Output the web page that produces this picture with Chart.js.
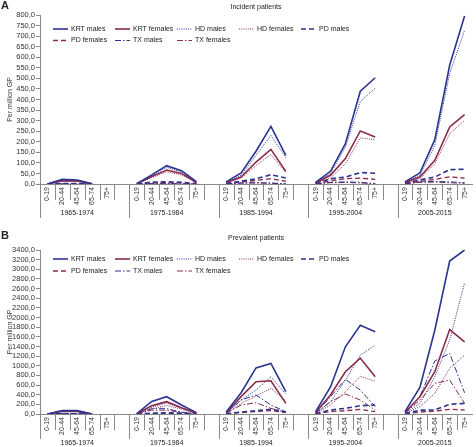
<!DOCTYPE html>
<html>
<head>
<meta charset="utf-8">
<script src="https://cdn.jsdelivr.net/npm/chart.js@4.4.0/dist/chart.umd.min.js"></script>
<style>
  html, body { margin: 0; padding: 0; background: #fff; }
  #wrap { position: relative; width: 476px; height: 447px; }
  canvas { position: absolute; left: 0; }
  #chartA { top: 0; }
  #chartB { top: 226px; }
</style>
</head>
<body>
<div id="wrap">
  <canvas id="chartA" width="476" height="225"></canvas>
  <canvas id="chartB" width="476" height="221"></canvas>
</div>
<script>
var FONT = '"Liberation Sans", Arial, sans-serif';
var MALE = "#2b3491";
var FEMALE = "#8b2a4a";

var ageGroups = ["0-19", "20-44", "45-64", "65-74", "75+"];
var periods = ["1965-1974", "1975-1984", "1985-1994", "1995-2004", "2005-2015"];
var seriesNames = ["KRT males", "KRT females", "HD males", "HD females",
                   "PD males", "PD females", "TX males", "TX females"];

// A: incident patients, per million GP (one row per period, one value per age group)
var incKrtMales   = [[0, 22, 19, 1, null], [2, 43, 87, 63, 11], [10, 52, 155, 273, 136], [8, 60, 191, 439, 503], [10, 52, 210, 562, 795]];
var incKrtFemales = [[0, 16, 14, 1, null], [2, 35, 66, 50, 7], [7, 33, 104, 164, 60], [6, 41, 120, 251, 222], [7, 33, 112, 270, 328]];
var incHdMales    = [[0, 19, 17, 1, null], [1, 38, 79, 57, 9], [6, 41, 136, 230, 125], [5, 49, 175, 391, 454], [6, 41, 183, 522, 727]];
var incHdFemales  = [[0, 13, 12, 1, null], [1, 30, 58, 43, 6], [4, 28, 88, 139, 54], [4, 28, 96, 218, 210], [4, 25, 96, 238, 301]];
var incPdMales    = [[0, 2, 2, 0, null], [0, 9, 11, 8, 2], [2, 13, 25, 44, 28], [2, 25, 33, 54, 51], [3, 19, 33, 68, 70]];
var incPdFemales  = [[0, 1, 1, 0, null], [0, 6, 6, 5, 1], [1, 10, 17, 25, 13], [1, 15, 25, 28, 22], [2, 12, 22, 34, 28]];
var incTxMales    = [[0, 0, 0, 0, null], [0, 2, 2, 1, 0], [1, 5, 6, 5, 1], [1, 8, 10, 8, 2], [1, 10, 12, 10, 6]];
var incTxFemales  = [[0, 0, 0, 0, null], [0, 1, 1, 0, 0], [1, 4, 5, 3, 1], [1, 6, 7, 5, 1], [1, 8, 9, 6, 3]];

// B: prevalent patients, per million GP
var prvKrtMales   = [[0, 69, 69, 0, null], [10, 260, 358, 186, 28], [40, 440, 955, 1048, 462], [50, 560, 1393, 1841, 1703], [50, 550, 1737, 3171, 3400]];
var prvKrtFemales = [[0, 60, 55, 0, null], [5, 170, 255, 130, 15], [25, 360, 669, 690, 221], [30, 393, 876, 1160, 772], [30, 358, 876, 1751, 1496]];
var prvHdMales    = [[0, 60, 60, 0, null], [3, 140, 230, 120, 15], [10, 290, 496, 772, 410], [10, 255, 703, 1220, 1427], [10, 221, 772, 1531, 2717]];
var prvHdFemales  = [[0, 50, 50, 0, null], [2, 100, 180, 100, 10], [8, 221, 372, 531, 276], [8, 186, 462, 780, 680], [8, 152, 427, 945, 1220]];
var prvPdMales    = [[0, 5, 5, 0, null], [1, 15, 25, 15, 5], [5, 40, 69, 97, 48], [5, 83, 117, 172, 186], [5, 80, 83, 200, 221]];
var prvPdFemales  = [[0, 3, 3, 0, null], [1, 10, 15, 10, 3], [3, 30, 50, 70, 30], [3, 50, 69, 97, 48], [3, 40, 60, 97, 83]];
var prvTxMales    = [[0, 10, 10, 0, null], [5, 110, 110, 40, 0], [20, 290, 393, 186, 48], [20, 358, 717, 496, 152], [20, 358, 1100, 1255, 440]];
var prvTxFemales  = [[0, 8, 8, 0, null], [3, 80, 80, 30, 0], [15, 186, 234, 117, 34], [15, 255, 414, 290, 83], [15, 290, 634, 703, 221]];

var seriesStyles = [
  { color: MALE, dash: [], width: 1.6 },
  { color: FEMALE, dash: [], width: 1.6 },
  { color: MALE, dash: [1, 1.2], width: 1 },
  { color: FEMALE, dash: [1, 1.2], width: 1 },
  { color: MALE, dash: [5, 3], width: 1.6 },
  { color: FEMALE, dash: [5, 3], width: 1.3 },
  { color: MALE, dash: [6, 2, 1.5, 2], width: 1 },
  { color: FEMALE, dash: [6, 2, 1.5, 2], width: 1 }
];

// category axis: 5 age groups per period, a blank slot between periods
var xLabels = [];
periods.forEach(function (p, g) {
  ageGroups.forEach(function (a) { xLabels.push(a); });
  if (g < periods.length - 1) xLabels.push("");
});

function flatten(rows) {
  var out = [];
  rows.forEach(function (r, g) {
    r.forEach(function (v) { out.push(v); });
    if (g < rows.length - 1) out.push(null);
  });
  return out;
}

var panelDecor = {
  id: "panelDecor",
  afterDraw: function (chart, args, o) {
    var ctx = chart.ctx, area = chart.chartArea, xs = chart.scales.x;
    var half = (xs.getPixelForValue(1) - xs.getPixelForValue(0)) / 2;
    ctx.save();
    ctx.strokeStyle = "#8a8a8a";
    ctx.lineWidth = 1;
    ctx.beginPath();
    for (var i = 0; i < xLabels.length; i++) {
      var px = Math.round(xs.getPixelForValue(i) - half) + 0.5;
      var len = (i % 6 === 0) ? o.groupLen : o.tickLen;
      ctx.moveTo(px, area.bottom);
      ctx.lineTo(px, area.bottom + len);
    }
    ctx.stroke();

    ctx.fillStyle = "#222";
    ctx.font = "7px " + FONT;
    ctx.textAlign = "center";
    ctx.textBaseline = "middle";
    periods.forEach(function (p, g) {
      var cx = (xs.getPixelForValue(g * 6) + xs.getPixelForValue(g * 6 + 4)) / 2;
      ctx.fillText(p, cx, o.groupLabelY);
    });
    ctx.fillText(o.title, (area.left + area.right) / 2, o.titleY);

    ctx.font = "bold 11px " + FONT;
    ctx.textAlign = "left";
    ctx.fillText(o.letter, 1, o.letterY);

    // legend inside the plot, two rows
    ctx.font = "7px " + FONT;
    chart.data.datasets.forEach(function (ds, i) {
      var row = i < 5 ? 0 : 1, col = i < 5 ? i : i - 5;
      var x0 = area.left + 13 + col * 62, y = o.legendY[row];
      ctx.save();
      ctx.strokeStyle = ds.borderColor;
      ctx.lineWidth = ds.borderWidth;
      ctx.setLineDash(ds.borderDash);
      ctx.beginPath();
      ctx.moveTo(x0, y);
      ctx.lineTo(x0 + 15, y);
      ctx.stroke();
      ctx.restore();
      ctx.fillText(ds.label, x0 + 18, y);
    });
    ctx.restore();
  }
};

function makeChart(id, rows, yMax, step, deco) {
  var datasets = seriesNames.map(function (name, i) {
    var s = seriesStyles[i];
    return {
      label: name,
      data: flatten(rows[i]),
      borderColor: s.color,
      borderWidth: s.width,
      borderDash: s.dash,
      pointRadius: 0,
      fill: false,
      tension: 0,
      spanGaps: false
    };
  });
  return new Chart(document.getElementById(id), {
    type: "line",
    data: { labels: xLabels, datasets: datasets },
    options: {
      responsive: false,
      animation: false,
      devicePixelRatio: 1,
      layout: { padding: { left: 0, right: 1, top: deco.top, bottom: 0 } },
      plugins: {
        legend: { display: false },
        title: { display: false },
        tooltip: { enabled: false },
        panelDecor: deco
      },
      scales: {
        x: {
          type: "category",
          offset: true,
          grid: { display: false, drawTicks: false },
          border: { display: true, color: "#8a8a8a" },
          ticks: {
            autoSkip: false, minRotation: 90, maxRotation: 90, padding: 3,
            color: "#333", font: { size: 7, family: FONT }
          },
          afterFit: function (s) { s.height = deco.axisHeight; }
        },
        y: {
          min: 0,
          max: yMax,
          ticks: {
            stepSize: step, autoSkip: false, padding: 1, color: "#333",
            font: { size: 7.5, family: FONT },
            callback: function (v) { return v.toFixed(1).replace(".", ","); }
          },
          grid: { drawOnChartArea: false, tickLength: 4, color: "#8a8a8a" },
          border: { color: "#8a8a8a" },
          title: {
            display: true, text: "Per million GP", color: "#333",
            font: { size: 7, family: FONT }, padding: { top: 6, bottom: 0 }
          },
          afterFit: function (s) { s.width = 40; }
        }
      }
    },
    plugins: [panelDecor]
  });
}

makeChart("chartA",
  [incKrtMales, incKrtFemales, incHdMales, incHdFemales, incPdMales, incPdFemales, incTxMales, incTxFemales],
  800, 50,
  { top: 15, axisHeight: 41, title: "Incident patients", titleY: 7, letter: "A", letterY: 6,
    legendY: [29, 40.5], tickLen: 16, groupLen: 34, groupLabelY: 213 });

makeChart("chartB",
  [prvKrtMales, prvKrtFemales, prvHdMales, prvHdFemales, prvPdMales, prvPdFemales, prvTxMales, prvTxFemales],
  3400, 200,
  { top: 24, axisHeight: 33, title: "Prevalent patients", titleY: 12, letter: "B", letterY: 10,
    legendY: [33, 45], tickLen: 16, groupLen: 25, groupLabelY: 217 });
</script>
</body>
</html>
